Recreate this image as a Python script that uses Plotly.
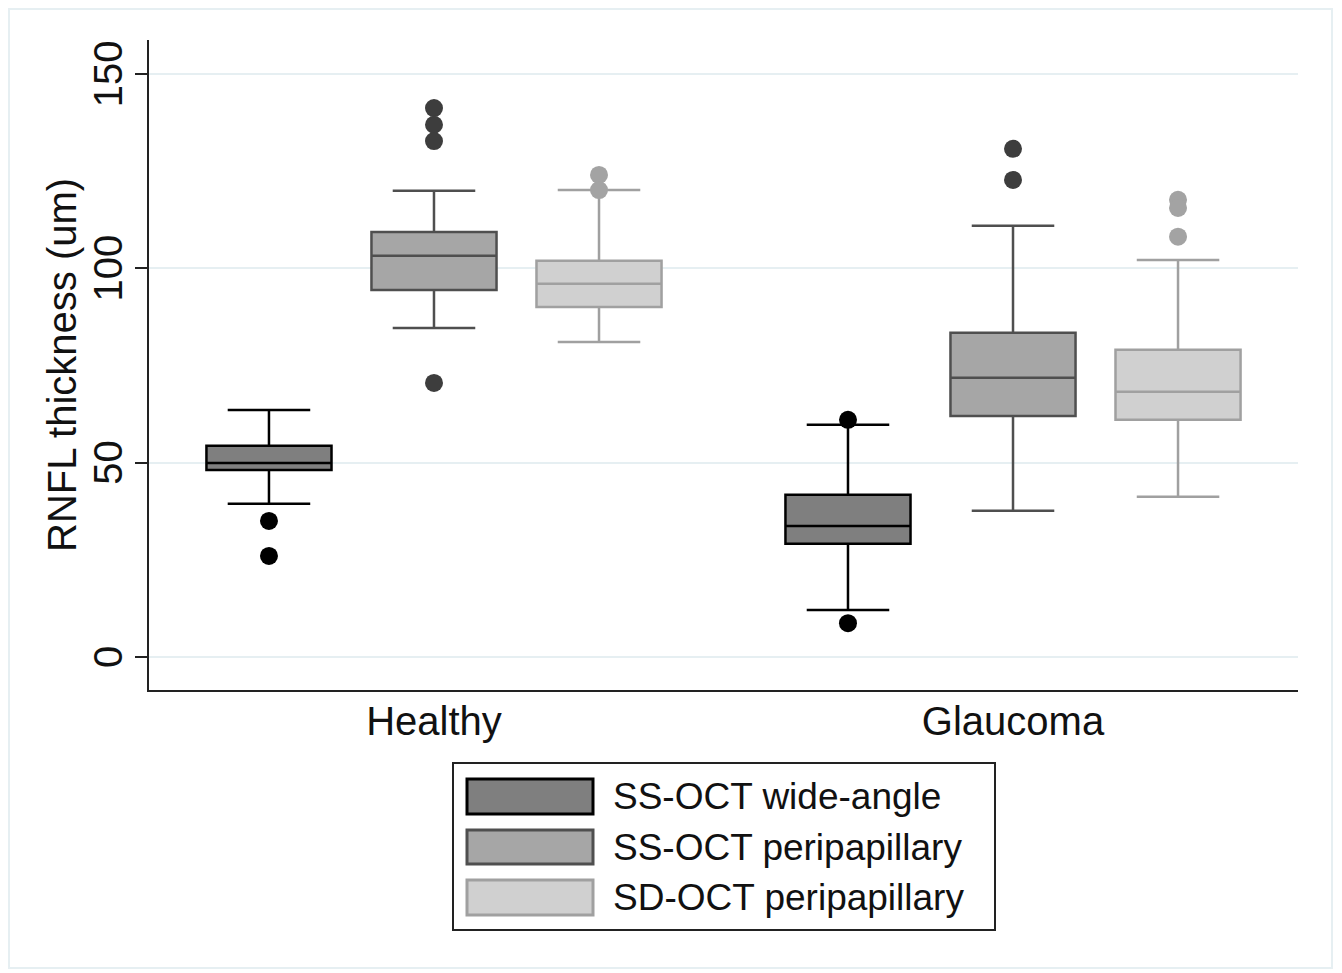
import plotly.graph_objects as go

# ---------------- data ----------------
groups = ["Healthy", "Glaucoma"]
series = ["SS-OCT wide-angle", "SS-OCT peripapillary", "SD-OCT peripapillary"]

# per series: [Healthy, Glaucoma]
wide_q1 = [48.1, 29.1]
wide_med = [49.9, 33.7]
wide_q3 = [54.3, 41.7]
wide_lo = [39.4, 12.1]
wide_hi = [63.5, 59.7]
wide_out_healthy = [35.0, 26.0]
wide_out_glaucoma = [61.0, 8.7]

sspp_q1 = [94.4, 62.0]
sspp_med = [103.2, 71.8]
sspp_q3 = [109.3, 83.4]
sspp_lo = [84.6, 37.6]
sspp_hi = [119.9, 110.9]
sspp_out_healthy = [141.2, 136.9, 132.7, 70.5]
sspp_out_glaucoma = [130.7, 122.7]

sdpp_q1 = [90.0, 61.0]
sdpp_med = [96.0, 68.2]
sdpp_q3 = [101.9, 79.0]
sdpp_lo = [81.0, 41.2]
sdpp_hi = [120.1, 102.1]
sdpp_out_healthy = [124.0, 120.1]
sdpp_out_glaucoma = [117.6, 115.5, 108.1]

y_ticks = [0, 50, 100, 150]
y_title = "RNFL thickness (um)"

# ---------------- styles ----------------
fills = ["#7f7f7f", "#a6a6a6", "#d0d0d0"]
lines = ["#000000", "#4f4f4f", "#a0a0a0"]
dots = ["#000000", "#3d3d3d", "#a3a3a3"]

stats = [
    (wide_q1, wide_med, wide_q3, wide_lo, wide_hi, wide_out_healthy, wide_out_glaucoma),
    (sspp_q1, sspp_med, sspp_q3, sspp_lo, sspp_hi, sspp_out_healthy, sspp_out_glaucoma),
    (sdpp_q1, sdpp_med, sdpp_q3, sdpp_lo, sdpp_hi, sdpp_out_healthy, sdpp_out_glaucoma),
]

slot = 0.285
box_w = 0.216
FONT = "Liberation Sans, Arial, Helvetica, sans-serif"

fig = go.Figure()
for s, (q1, med, q3, lo, hi, oh, og) in enumerate(stats):
    off = (s - 1) * slot
    xs = [g + off for g in range(len(groups))]
    fig.add_trace(go.Box(
        x=xs, q1=q1, median=med, q3=q3, lowerfence=lo, upperfence=hi,
        name=series[s], width=box_w, whiskerwidth=0.66,
        fillcolor=fills[s], line=dict(color=lines[s], width=2.5),
        boxpoints=False, showlegend=False,
    ))
    ox = [0 + off] * len(oh) + [1 + off] * len(og)
    oy = list(oh) + list(og)
    fig.add_trace(go.Scatter(
        x=ox, y=oy, mode="markers", showlegend=False,
        marker=dict(color=dots[s], size=18, line=dict(width=0)),
    ))

# ---------------- layout ----------------
# page body has an 8px margin: work in screen pixels, then shift
SH = 8
L, R, T, B = 149 - SH, 1298 - SH, 40 - SH, 690 - SH
W, H = 1342 - SH, 973 - SH
pw, ph = R - L, B - T


def px(x):
    return (x - SH - L) / pw


def py(y):
    return (B - (y - SH)) / ph


shapes = [
    # outer graph region frame
    dict(type="rect", xref="paper", yref="paper", x0=px(9), x1=px(1332), y0=py(968), y1=py(9),
         line=dict(color="#e6eff2", width=2), fillcolor="rgba(0,0,0,0)", layer="below"),
    # legend frame
    dict(type="rect", xref="paper", yref="paper", x0=px(453), x1=px(995), y0=py(930), y1=py(763),
         line=dict(color="#222222", width=2), fillcolor="white"),
]
annotations = [
    dict(xref="paper", yref="paper", x=px(62), y=py(365), text=y_title, textangle=-90,
         showarrow=False, xanchor="center", yanchor="middle",
         font=dict(family=FONT, size=40, color="#111111")),
]
rows = [(779, 814), (830, 864), (880, 915)]
for s, (y0, y1) in enumerate(rows):
    shapes.append(dict(type="rect", xref="paper", yref="paper", x0=px(467), x1=px(593),
                       y0=py(y1), y1=py(y0), fillcolor=fills[s],
                       line=dict(color=lines[s], width=3)))
    annotations.append(dict(xref="paper", yref="paper", x=px(611), y=py((y0 + y1) / 2),
                            text=series[s], showarrow=False, xanchor="left", yanchor="middle",
                            font=dict(family=FONT, size=37, color="#111111")))

fig.update_layout(
    width=W, height=H,
    margin=dict(l=L, r=W - R, t=T, b=H - B),
    paper_bgcolor="white", plot_bgcolor="white",
    boxmode="overlay",
    shapes=shapes, annotations=annotations,
    font=dict(family=FONT, color="#111111"),
    showlegend=False,
)
fig.update_xaxes(
    range=[-0.4922, 1.4922], tickvals=[0, 1], ticktext=groups,
    showgrid=False, zeroline=False, showline=True, linecolor="#222222", linewidth=2,
    ticks="", ticklabelstandoff=-5, tickfont=dict(family=FONT, size=40, color="#111111"),
)
fig.update_yaxes(
    range=[-8.5, 158.7], tickvals=y_ticks, tickangle=-90,
    showgrid=True, gridcolor="#e6eff2", gridwidth=2, zeroline=False,
    showline=True, linecolor="#222222", linewidth=2,
    ticks="outside", ticklen=12, tickwidth=2, tickcolor="#222222",
    ticklabelstandoff=-3, ticklabelshift=6,
    tickfont=dict(family=FONT, size=40, color="#111111"),
)

fig.write_html("out.html")
